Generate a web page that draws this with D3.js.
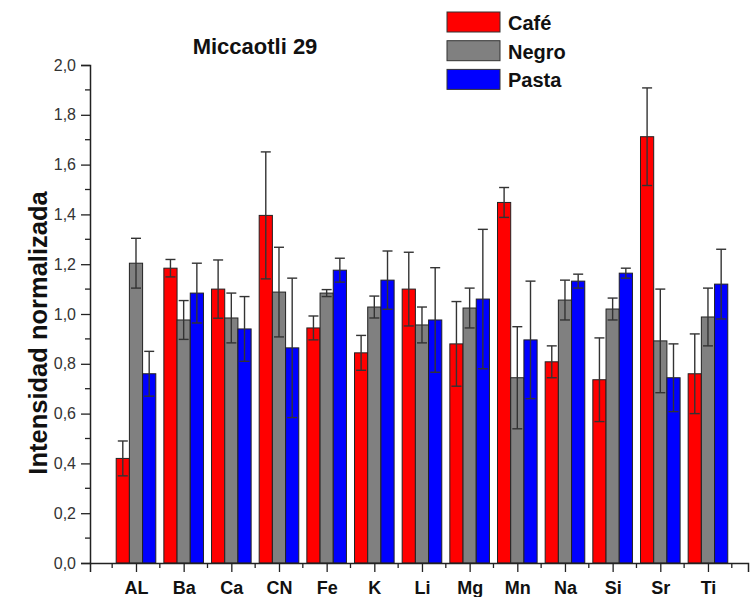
<!DOCTYPE html>
<html>
<head>
<meta charset="utf-8">
<script src="https://cdn.jsdelivr.net/npm/d3@7"></script>
<style>
  html, body { margin: 0; padding: 0; background: #fff; }
  svg { display: block; }
</style>
</head>
<body>
<svg id="chart" width="751" height="597"></svg>
<script>
const categories = ["AL","Ba","Ca","CN","Fe","K","Li","Mg","Mn","Na","Si","Sr","Ti"];
const seriesNames = ["Café","Negro","Pasta"];
const cafe      = [0.42, 1.184, 1.10, 1.396, 0.944, 0.844, 1.10, 0.88, 1.448, 0.808, 0.736, 1.712, 0.76];
const cafeErr   = [0.07, 0.035, 0.117, 0.255, 0.048, 0.07, 0.148, 0.17, 0.06, 0.064, 0.168, 0.196, 0.16];
const negro     = [1.204, 0.976, 0.984, 1.088, 1.084, 1.028, 0.956, 1.024, 0.744, 1.056, 1.02, 0.892, 0.988];
const negroErr  = [0.10, 0.078, 0.10, 0.18, 0.014, 0.044, 0.072, 0.08, 0.205, 0.08, 0.044, 0.208, 0.116];
const pasta     = [0.76, 1.084, 0.94, 0.864, 1.176, 1.136, 0.976, 1.06, 0.896, 1.132, 1.164, 0.744, 1.12];
const pastaErr  = [0.09, 0.12, 0.13, 0.28, 0.048, 0.117, 0.21, 0.28, 0.236, 0.028, 0.02, 0.136, 0.14];
const yTicks = [0, 0.2, 0.4, 0.6, 0.8, 1.0, 1.2, 1.4, 1.6, 1.8, 2.0];
const colors = ["#ff0000", "#808080", "#0000ff"];
const title = "Miccaotli 29";
const yTitle = "Intensidad normalizada";

const values = [cafe, negro, pasta];
const errs = [cafeErr, negroErr, pastaErr];

const svg = d3.select("#chart");
const font = "'Liberation Sans', Arial, sans-serif";

const x = d3.scaleLinear().domain([0.035, 13.84]).range([90, 748]);
const y = d3.scaleLinear().domain([0, 2]).range([563, 65]);
const barW = 13.2;
const sub = d3.scaleBand().domain(seriesNames).range([-barW * 1.5, barW * 1.5]);

const g = svg.append("g");

const rows = [];
categories.forEach((c, i) => {
  seriesNames.forEach((s, k) => {
    rows.push({c, i, s, k, v: values[k][i], e: errs[k][i]});
  });
});

g.selectAll("rect.bar").data(rows).enter().append("rect")
  .attr("class", "bar")
  .attr("x", d => x(d.i + 1) + sub(d.s))
  .attr("y", d => y(d.v))
  .attr("width", sub.bandwidth())
  .attr("height", d => y(0) - y(d.v))
  .attr("fill", d => colors[d.k])
  .attr("stroke", "#222")
  .attr("stroke-width", 1);

const eg = g.selectAll("g.err").data(rows).enter().append("g").attr("class", "err")
  .attr("stroke", "#333").attr("stroke-width", 1.4);
eg.append("line")
  .attr("x1", d => x(d.i + 1) + sub(d.s) + sub.bandwidth() / 2)
  .attr("x2", d => x(d.i + 1) + sub(d.s) + sub.bandwidth() / 2)
  .attr("y1", d => y(d.v - d.e))
  .attr("y2", d => y(d.v + d.e));
[1, -1].forEach(sign => {
  eg.append("line")
    .attr("x1", d => x(d.i + 1) + sub(d.s) + sub.bandwidth() / 2 - 5)
    .attr("x2", d => x(d.i + 1) + sub(d.s) + sub.bandwidth() / 2 + 5)
    .attr("y1", d => y(d.v + sign * d.e))
    .attr("y2", d => y(d.v + sign * d.e));
});

const yAxis = d3.axisLeft(y).tickValues(yTicks).tickSize(9).tickPadding(5)
  .tickFormat(d => d3.format(".1f")(d).replace(".", ","));
const ya = svg.append("g").attr("transform", `translate(${x.range()[0]},0)`).call(yAxis);
ya.select(".domain").attr("stroke", "#222").attr("stroke-width", 1.5);
ya.selectAll(".tick line").attr("stroke", "#222").attr("stroke-width", 1.3);
ya.selectAll(".tick text").attr("font-family", font).attr("font-size", 16).attr("fill", "#333");
const yMinor = d3.range(0.1, 2.0, 0.2);
svg.append("g").selectAll("line").data(yMinor).enter().append("line")
  .attr("x1", x.range()[0] - 5).attr("x2", x.range()[0])
  .attr("y1", d => y(d)).attr("y2", d => y(d))
  .attr("stroke", "#222").attr("stroke-width", 1.3);

const xAxis = d3.axisBottom(x).tickValues(d3.range(1, 14)).tickSize(9).tickPadding(9)
  .tickFormat(d => categories[d - 1]);
const xa = svg.append("g").attr("transform", `translate(0,${y(0)})`).call(xAxis);
xa.select(".domain").attr("stroke", "#222").attr("stroke-width", 1.5);
xa.selectAll(".tick line").attr("stroke", "#222").attr("stroke-width", 1.3);
xa.selectAll(".tick text").attr("font-family", font).attr("font-size", 18)
  .attr("font-weight", "bold").attr("fill", "#111");
const xMinor = d3.range(0.5, 14, 1);
svg.append("g").selectAll("line").data(xMinor).enter().append("line")
  .attr("x1", d => x(d)).attr("x2", d => x(d))
  .attr("y1", y(0)).attr("y2", y(0) + 5)
  .attr("stroke", "#222").attr("stroke-width", 1.3);

svg.append("text").attr("x", 255).attr("y", 54).attr("text-anchor", "middle")
  .attr("font-family", font).attr("font-size", 22).attr("font-weight", "bold")
  .attr("fill", "#111").text(title);

svg.append("text")
  .attr("transform", `translate(47,333) rotate(-90)`)
  .attr("text-anchor", "middle")
  .attr("font-family", font).attr("font-size", 25.5).attr("font-weight", "bold")
  .attr("fill", "#111").text(yTitle);

const lg = svg.append("g").attr("transform", "translate(447,12)");
seriesNames.forEach((s, k) => {
  lg.append("rect").attr("x", 0).attr("y", k * 28.7).attr("width", 53).attr("height", 20)
    .attr("fill", colors[k]).attr("stroke", "#333").attr("stroke-width", 1);
  lg.append("text").attr("x", 61).attr("y", k * 28.7 + 18)
    .attr("font-family", font).attr("font-size", 20).attr("font-weight", "bold")
    .attr("fill", "#111").text(s);
});
</script>
</body>
</html>
